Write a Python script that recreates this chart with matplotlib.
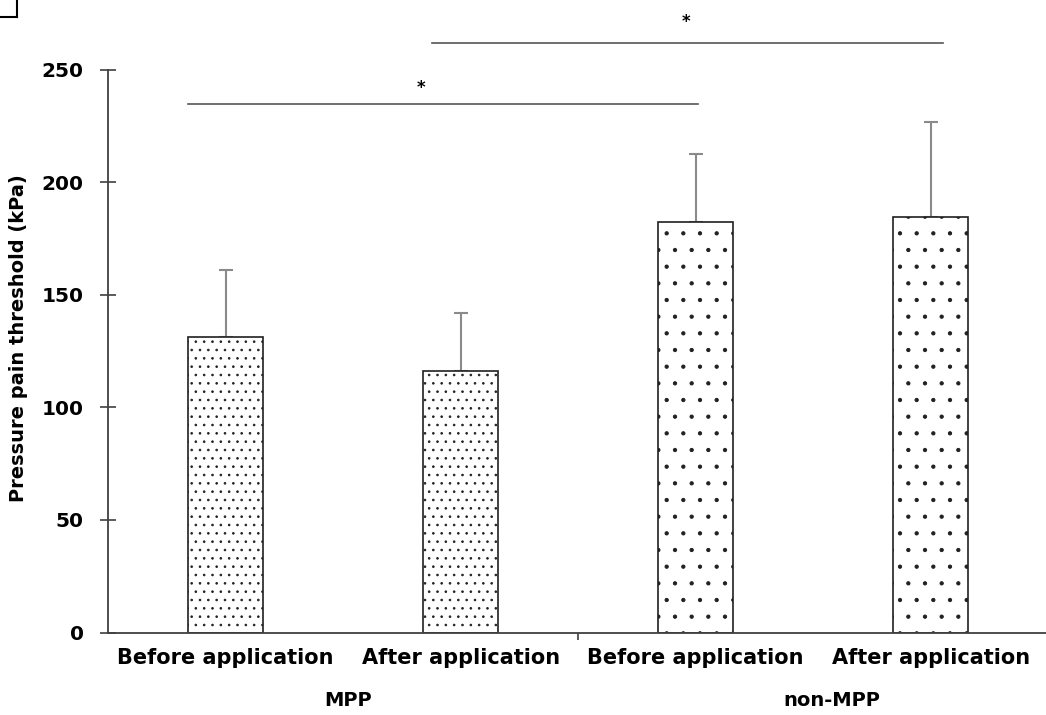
import matplotlib
matplotlib.use("Agg")
import matplotlib.pyplot as plt
from matplotlib.lines import Line2D

labels = ["Before application", "After application", "Before application", "After application"]
groups = ["MPP", "non-MPP"]
means = [131.4, 116.0, 182.5, 184.7]
sd = [29.8, 26.1, 29.8, 42.2]
hatches = ["..", "..", ".", "."]

# significance brackets: (x start, x end, y, star x, star y)
sig = [(-0.16, 2.01, 234.7, 0.83, 242.0),
       (0.88, 3.05, 261.6, 1.96, 271.0)]

plt.rcParams["hatch.linewidth"] = 0.65
plt.rcParams["font.family"] = ["DejaVu Sans"]

fig = plt.figure(figsize=(10.46, 7.15), dpi=100)
ax = fig.add_axes([108 / 1046, 82.5 / 715, 1 - 108 / 1046, 632.5 / 715])

x = list(range(len(means)))
ax.bar(x, means, width=0.32, color="white", edgecolor="#202020",
       linewidth=1.2, hatch=hatches, zorder=2)
ax.errorbar(x, means, yerr=[[0] * len(sd), sd], fmt="none", ecolor="#8a8a8a",
            elinewidth=1.5, capsize=5, capthick=1.5, zorder=1)

for x0, x1, y, sx, sy in sig:
    ax.plot([x0, x1], [y, y], color="#555555", lw=1.2, clip_on=False)
    ax.text(sx, sy, "*", ha="center", va="center", fontsize=12,
            fontweight="bold", clip_on=False)

ax.set_xlim(-0.5, 3.49)
ax.set_ylim(0, 280.9)
ax.set_yticks([0, 50, 100, 150, 200, 250])
ax.spines["left"].set_bounds(0, 250)
for s in ["top", "right"]:
    ax.spines[s].set_visible(False)
for s in ["left", "bottom"]:
    ax.spines[s].set_color("#404040")
    ax.spines[s].set_linewidth(1.3)

ax.tick_params(axis="y", direction="inout", length=11, width=1.2,
               color="#404040", pad=12, labelsize=14.5)
for t in ax.get_yticklabels():
    t.set_fontweight("bold")

ax.set_xticks(x)
ax.set_xticklabels(labels, fontsize=15, fontweight="bold")
ax.tick_params(axis="x", length=0, pad=11)
ax.set_xticks([1.5], minor=True)
ax.tick_params(axis="x", which="minor", direction="out", length=5,
               width=1.2, color="#404040")

for gx, g in zip([0.52, 2.58], groups):
    ax.text(gx, -0.107, g, transform=ax.get_xaxis_transform(), ha="center",
            va="center", fontsize=14, fontweight="bold")

fig.text(19 / 1046, 1 - 338 / 715, "Pressure pain threshold (kPa)",
         rotation=90, ha="center", va="center", fontsize=14, fontweight="bold")

# small box in the top left corner
fig.add_artist(Line2D([17 / 1046, 17 / 1046], [1, 1 - 17 / 715], color="black", lw=1.5))
fig.add_artist(Line2D([0, 17 / 1046], [1 - 17 / 715, 1 - 17 / 715], color="black", lw=1.5))

fig.savefig("out.png", dpi=100)
